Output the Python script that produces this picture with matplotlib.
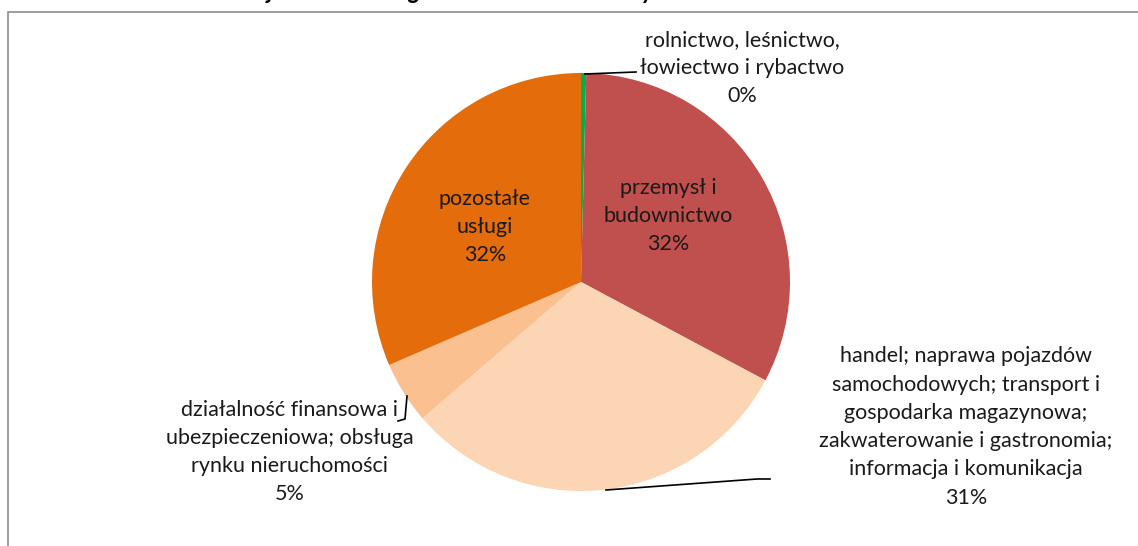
import matplotlib
matplotlib.use("Agg")
import matplotlib.pyplot as plt
from matplotlib.patches import Rectangle

# sector shares of the pie (percent), clockwise from 12 o'clock
sectors = [
    "rolnictwo, leśnictwo,\nłowiectwo i rybactwo",
    "przemysł i\nbudownictwo",
    "handel; naprawa pojazdów\nsamochodowych; transport i\ngospodarka magazynowa;\nzakwaterowanie i gastronomia;\ninformacja i komunikacja",
    "działalność finansowa i\nubezpieczeniowa; obsługa\nrynku nieruchomości",
    "pozostałe\nusługi",
]
shares = [0.4, 32.4, 30.9, 4.8, 31.5]
colors = ["#00B050", "#C0504D", "#FCD5B5", "#FAC090", "#E46C0A"]

# label anchor points in pixel space (x, y from top)
label_pos = [(742, 68), (668, 216), (966, 427), (290, 452), (485, 227)]

W, H = 1138, 546
plt.rcParams["font.family"] = ["Lato", "DejaVu Sans"]

fig = plt.figure(figsize=(W / 100, H / 100), dpi=100)
ax = fig.add_axes([0, 0, 1, 1])

# chart frame (runs off the right and bottom edges)
ax.add_patch(Rectangle((8, -10), W + 20, H - 12 + 10, fill=False,
                       edgecolor="#8C8C8C", linewidth=1.2))

# cut-off title strip at the very top
ax.text(2, H + 1, "Struktura wartości dodanej brutto według sektorów ekonomicznych w 2013 r.",
        fontsize=17, fontweight="bold", fontstyle="italic", va="baseline", ha="left")

ax.pie(shares, colors=colors, startangle=90, counterclock=False,
       center=(581, H - 282), radius=209, frame=True,
       wedgeprops=dict(linewidth=0))
ax.set_xlim(0, W)
ax.set_ylim(0, H)
ax.set_aspect("auto")
ax.axis("off")

for name, val, (x, y) in zip(sectors, shares, label_pos):
    ax.text(x, H - y, f"{name}\n{val:.0f}%", ha="center", va="center",
            fontsize=15.5, linespacing=1.52, color="#1a1a1a")

# leader lines
ax.plot([585, 636], [H - 74, H - 72], color="black", lw=1.2)
ax.plot([606, 757, 770], [H - 490, H - 479, H - 479], color="black", lw=1.2)
ax.plot([407, 405, 398], [H - 396, H - 419, H - 421], color="black", lw=1.2)

fig.savefig("out.png", dpi=100)
